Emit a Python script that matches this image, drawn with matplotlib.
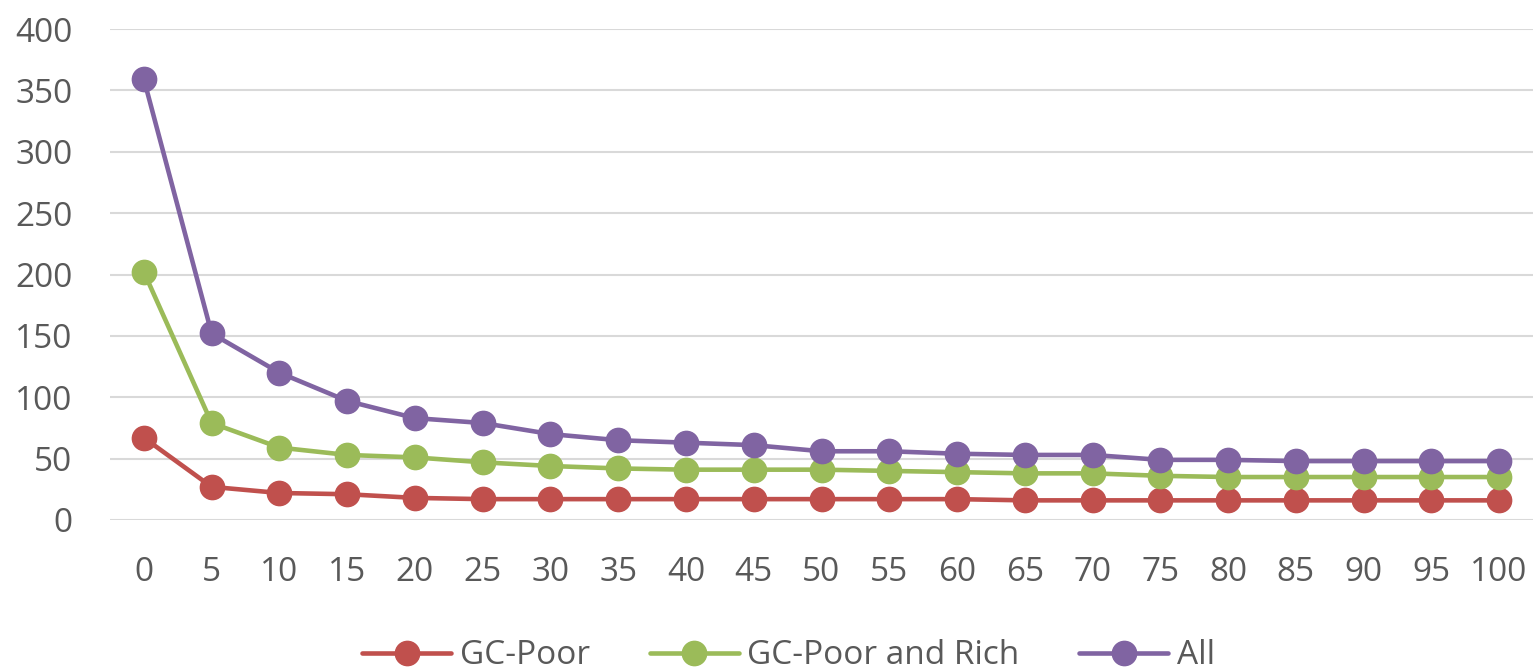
import matplotlib
matplotlib.use("Agg")
import matplotlib.pyplot as plt

categories = [0, 5, 10, 15, 20, 25, 30, 35, 40, 45, 50, 55, 60, 65, 70, 75, 80, 85, 90, 95, 100]
gc_poor = [67, 27, 22, 21, 18, 17, 17, 17, 17, 17, 17, 17, 17, 16, 16, 16, 16, 16, 16, 16, 16]
gc_poor_rich = [202, 79, 59, 53, 51, 47, 44, 42, 41, 41, 41, 40, 39, 38, 38, 36, 35, 35, 35, 35, 35]
all_vals = [359, 152, 120, 97, 83, 79, 70, 65, 63, 61, 56, 56, 54, 53, 53, 49, 49, 48, 48, 48, 48]
series_names = ["GC-Poor", "GC-Poor and Rich", "All"]
colors = ["#C0504D", "#9BBB59", "#8064A2"]
y_ticks = [0, 50, 100, 150, 200, 250, 300, 350, 400]

plt.rcParams['font.family'] = ['Open Sans', 'DejaVu Sans']

W, H = 1533, 670
fig = plt.figure(figsize=(W / 100, H / 100), dpi=100)
ax = fig.add_axes([110 / W, 1 - 520 / H, (1533 - 110) / W, (520 - 29) / H])

idx = list(range(len(categories)))
for vals, name, c in zip([gc_poor, gc_poor_rich, all_vals], series_names, colors):
    ax.plot(idx, vals, color=c, lw=3.3, marker='o', markersize=17.5, label=name,
            solid_capstyle='round', zorder=3)

ax.set_xlim(-0.5, len(categories) - 0.5)
ax.set_ylim(0, 400)
ax.set_yticks(y_ticks)
ax.set_xticks(idx)
ax.set_xticklabels([str(c) for c in categories])
ax.grid(axis='y', color='#D9D9D9', lw=1.5)
ax.set_axisbelow(True)
for s in ax.spines.values():
    s.set_visible(False)
ax.tick_params(axis='both', length=0, labelsize=24, labelcolor='#595959')
ax.tick_params(axis='y', pad=27)
ax.tick_params(axis='x', pad=26)

leg = fig.legend(loc='center', bbox_to_anchor=(788.5 / W, 1 - 656 / H), ncol=3, frameon=False,
                 fontsize=24, labelcolor='#595959', handlelength=2.67, columnspacing=1.8,
                 handletextpad=0.25)

fig.savefig("out.png", dpi=100)
